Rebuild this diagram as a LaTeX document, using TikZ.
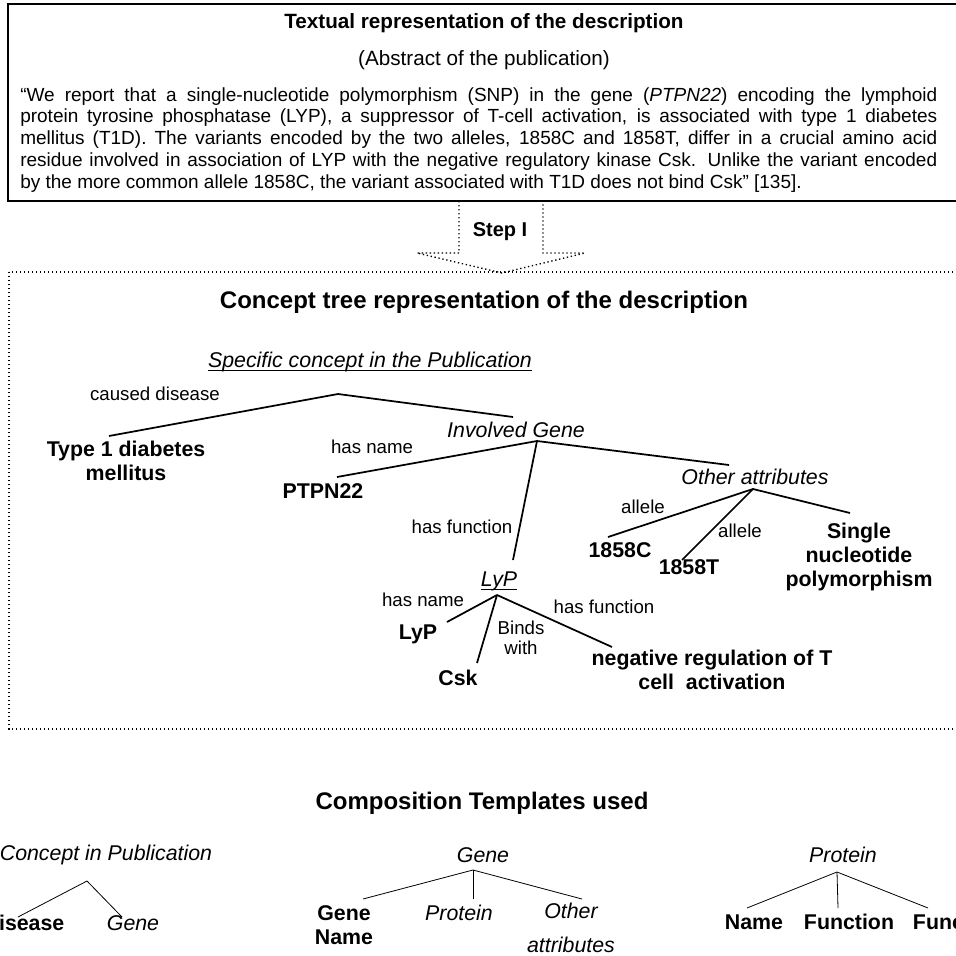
\documentclass[tikz,border=0pt]{standalone}
\usepackage{fontspec}
\setmainfont{Liberation Sans}
\usetikzlibrary{calc}
\newcommand{\underword}[1]{\setbox0=\hbox{#1}\rlap{\rule[-2.6pt]{\wd0}{0.8pt}}\box0}
\tikzset{
    box_line/.style = {
        draw=black,
        line width=1.5pt
    },
    dotted_line/.style = {
        draw=black,
        line width=1pt,
        dotted
    },
    tree_line/.style = {
        draw=black,
        line width=1.3pt
    },
    template_line/.style = {
        draw=black,
        line width=0.6pt
    },
    heading/.style = {
        font=\fontsize{18pt}{20pt}\selectfont\bfseries,
        inner sep=0pt
    },
    value/.style = {
        font=\fontsize{16pt}{18pt}\selectfont\bfseries,
        align=center,
        inner sep=0pt
    },
    concept/.style = {
        font=\fontsize{16pt}{18pt}\selectfont\itshape,
        align=center,
        inner sep=0pt
    },
    relation/.style = {
        font=\fontsize{14pt}{15pt}\selectfont,
        align=center,
        inner sep=0pt
    },
}
\begin{document}
\begin{tikzpicture}[x=0.75pt, y=-0.75pt]
                \useasboundingbox (0,0) rectangle (956,956);
                \clip (0,0) rectangle (956,956);

                \path[box_line] (8,4) rectangle (1000,201);
                \node[font=\fontsize{15.5pt}{17pt}\selectfont\bfseries] (text_title) at (484,23) {Textual representation of the description};
                \node[font=\fontsize{15.5pt}{17pt}\selectfont] (text_sub) at (484,60) {(Abstract of the publication)};
                \node[anchor=north west, inner sep=0pt, text width=687.75pt, align=justify, font=\fontsize{14.25pt}{16.4pt}\selectfont] (text_body) at (20,87) {\hyphenpenalty=10000\exhyphenpenalty=10000
                    “We report that a single-nucleotide polymorphism (SNP) in the gene (\textit{PTPN22}) encoding the lymphoid\linebreak
                    protein tyrosine phosphatase (LYP), a suppressor of T-cell activation, is associated with type 1 diabetes\linebreak
                    mellitus (T1D). The variants encoded by the two alleles, 1858C and 1858T, differ in a crucial amino acid\linebreak
                    residue involved in association of LYP with the negative regulatory kinase Csk. Unlike the variant encoded\linebreak
                    by the more common allele 1858C, the variant associated with T1D does not bind Csk” [135].};

                \path[dotted_line] (459,201) -- (459,253) -- (417,253) -- (502,273) -- (585,253) -- (543,253) -- (543,201);
                \node[font=\fontsize{15pt}{17pt}\selectfont\bfseries] (step) at (500,232) {Step I};

                \path[dotted_line] (9,272) rectangle (1000,729);
                \node[heading] (tree_title) at (484,302) {Concept tree representation of the description};

                \node[concept] (spec) at (370,362) {\underword{Specific concept in the Publication}};
                \node[value] (type1) at (126,461) {Type 1 diabetes\\mellitus};
                \node[concept] (gene) at (516,430) {Involved Gene};
                \node[value] (ptpn) at (323,491) {PTPN22};
                \node[concept] (lyp) at (499,581) {\underword{LyP}};
                \node[concept] (other) at (755,477) {Other attributes};
                \node[value] (c1858) at (620,550) {1858C};
                \node[value] (t1858) at (689,567) {1858T};
                \node[value] (snp) at (859,557) {Single\\nucleotide\\polymorphism};
                \node[value] (lypname) at (418,634) {LyP};
                \node[value] (csk) at (458,678) {Csk};
                \node[value] (negreg) at (712,670) {negative regulation of T\\cell\ \ activation};

                \node[relation] (rel_caused) at (155,394) {caused disease};
                \node[relation] (rel_name_a) at (372,447) {has name};
                \node[relation] (rel_func_a) at (462,527) {has function};
                \node[relation] (rel_allele_a) at (643,507) {allele};
                \node[relation] (rel_allele_b) at (740,531) {allele};
                \node[relation] (rel_name_b) at (423,600) {has name};
                \node[relation] (rel_binds) at (521,638) {Binds\\with};
                \node[relation] (rel_func_b) at (604,607) {has function};

                \coordinate (spec_fork) at (338,394);
                \coordinate (gene_fork) at (537,441);
                \coordinate (other_fork) at (753,489);
                \coordinate (lyp_fork) at (497,595);

                \path[tree_line] (spec_fork) -- ($(type1)+(-17,-25)$);
                \path[tree_line] (spec_fork) -- ($(gene)+(-3,-13)$);
                \path[tree_line] (gene_fork) -- ($(ptpn)+(14,-14)$);
                \path[tree_line] (gene_fork) -- ($(lyp)+(14,-21)$);
                \path[tree_line] (gene_fork) -- ($(other)+(-26,-12)$);
                \path[tree_line] (other_fork) -- ($(c1858)+(-12,-13)$);
                \path[tree_line] (other_fork) -- ($(t1858)+(-7,-7)$);
                \path[tree_line] (other_fork) -- ($(snp)+(-9,-44)$);
                \path[tree_line] (lyp_fork) -- ($(lypname)+(29,-12)$);
                \path[tree_line] (lyp_fork) -- ($(csk)+(19,-15)$);
                \path[tree_line] (lyp_fork) -- ($(negreg)+(-100,-23)$);

                \node[heading] (tmpl_title) at (482,803) {Composition Templates used};

                \node[concept] (tmpl_concept) at (106,855) {Concept in Publication};
                \node[value] (tmpl_disease) at (24,923) {Disease};
                \node[concept] (tmpl_gene_leaf) at (133,923) {Gene};
                \coordinate (tmpl_concept_fork) at (87,881);
                \path[template_line] (tmpl_concept_fork) -- ($(tmpl_disease)+(-6,-6)$);
                \path[template_line] (tmpl_concept_fork) -- ($(tmpl_gene_leaf)+(-11,-6)$);

                \node[concept] (tmpl_gene) at (483,855) {Gene};
                \node[value] (tmpl_gene_name) at (344,925) {Gene\\Name};
                \node[concept] (tmpl_gene_protein) at (459,913) {Protein};
                \node[concept] (tmpl_gene_other) at (571,928) {Other\\[8pt]attributes};
                \coordinate (tmpl_gene_fork) at (473,870);
                \path[template_line] (tmpl_gene_fork) -- ($(tmpl_gene_name)+(19,-26)$);
                \path[template_line] (tmpl_gene_fork) -- ($(tmpl_gene_protein)+(14,-14)$);
                \path[template_line] (tmpl_gene_fork) -- ($(tmpl_gene_other)+(11,-29)$);

                \node[concept] (tmpl_protein) at (843,855) {Protein};
                \node[value] (tmpl_name) at (754,922) {Name};
                \node[value] (tmpl_func_a) at (849,922) {Function};
                \node[value] (tmpl_func_b) at (958,922) {Function};
                \coordinate (tmpl_protein_fork) at (837,872);
                \path[template_line] (tmpl_protein_fork) -- ($(tmpl_name)+(-7,-14)$);
                \path[template_line] (tmpl_protein_fork) -- ($(tmpl_func_a)+(-11,-14)$);
                \path[template_line] (tmpl_protein_fork) -- ($(tmpl_func_b)+(-30,-14)$);
\end{tikzpicture}
\end{document}
